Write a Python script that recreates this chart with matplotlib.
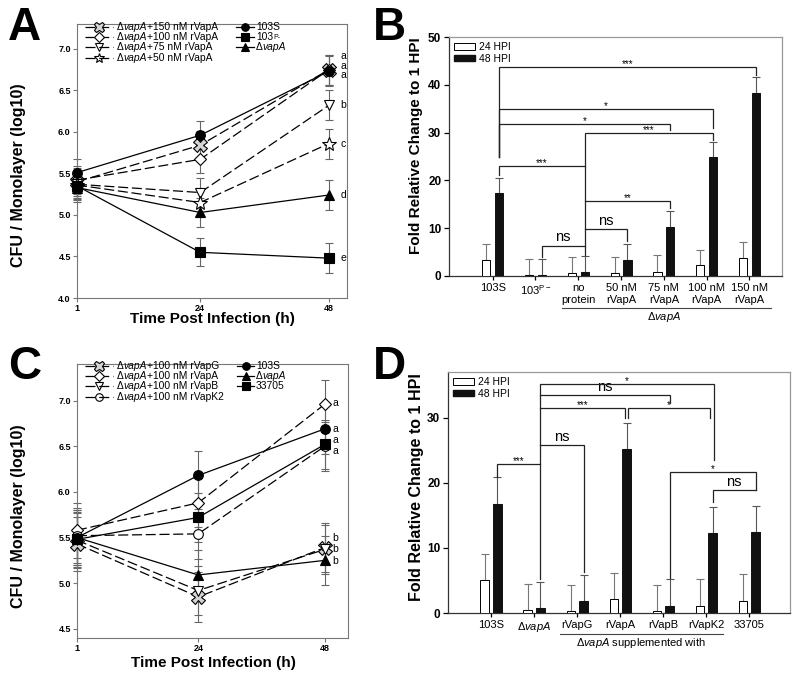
import matplotlib
matplotlib.use('Agg')
import matplotlib.pyplot as plt
from matplotlib.lines import Line2D
from matplotlib.patches import Patch

plt.rcParams['font.family'] = ['Liberation Sans', 'DejaVu Sans']
plt.rcParams['mathtext.fontset'] = 'custom'
plt.rcParams['mathtext.rm'] = 'Liberation Sans'
plt.rcParams['mathtext.it'] = 'Liberation Sans:italic'
plt.rcParams['mathtext.bf'] = 'Liberation Sans:bold'

DV = 'Δ$\\mathit{vapA}$'
hours = [1, 24, 48]

# ---------------- Panel A data ----------------
A_labels = ['ΔvapA+150 nM rVapA', 'ΔvapA+100 nM rVapA', 'ΔvapA+75 nM rVapA',
            'ΔvapA+50 nM rVapA', '103S', '103P-', 'ΔvapA']
A_150 = [5.40, 5.84, 6.75]
A_100 = [5.42, 5.67, 6.75]
A_75 = [5.37, 5.27, 6.32]
A_50 = [5.36, 5.15, 5.86]
A_103S = [5.51, 5.96, 6.73]
A_103P = [5.35, 4.55, 4.48]
A_dvapA = [5.33, 5.03, 5.24]
A_err = [0.17, 0.17, 0.18]
A_letters = ['a', 'a', 'a', 'b', 'c', 'd', 'e']
A_letter_y = [6.92, 6.80, 6.68, 6.32, 5.86, 5.24, 4.48]

# ---------------- Panel C data ----------------
C_labels = ['ΔvapA+100 nM rVapG', 'ΔvapA+100 nM rVapA', 'ΔvapA+100 nM rVapB',
            'ΔvapA+100 nM rVapK2', '103S', 'ΔvapA', '33705']
C_rVapG = [5.43, 4.85, 5.39]
C_rVapA = [5.58, 5.88, 6.96]
C_rVapB = [5.47, 4.92, 5.37]
C_rVapK2 = [5.52, 5.54, 6.50]
C_103S = [5.50, 6.18, 6.69]
C_dvapA = [5.50, 5.09, 5.25]
C_33705 = [5.48, 5.72, 6.52]
C_err = [0.30, 0.27, 0.27]
C_letters = ['a', 'a', 'a', 'a', 'b', 'b', 'b']
C_letter_y = [6.97, 6.69, 6.57, 6.45, 5.49, 5.37, 5.24]

# ---------------- Panel B data ----------------
B_groups = ['103S', '103$^{\\mathrm{P-}}$', 'no\nprotein', '50 nM\nrVapA',
            '75 nM\nrVapA', '100 nM\nrVapA', '150 nM\nrVapA']
B_24 = [3.3, 0.2, 0.6, 0.6, 0.9, 2.2, 3.8]
B_24_err = [3.3, 3.3, 3.4, 3.4, 3.4, 3.3, 3.3]
B_48 = [17.3, 0.2, 0.9, 3.4, 10.2, 24.8, 38.3]
B_48_err = [3.3, 3.3, 3.3, 3.3, 3.3, 3.2, 3.3]
# (from, to, height, drop-from end, drop-to end, label)
B_brackets = [
    (0, 6, 43.7, 24.9, 42.1, '***'),
    (0, 5, 34.9, 24.9, 31.0, '*'),
    (0, 4, 31.8, 24.9, 30.5, '*'),
    (2, 5, 29.9, 4.3, 28.4, '***'),
    (0, 2, 23.0, 21.1, 23.0, '***'),
    (2, 4, 15.7, 15.7, 14.3, '**'),
    (2, 3, 9.8, 9.8, 7.4, 'ns'),
    (1, 2, 6.3, 4.0, 6.3, 'ns'),
]

# ---------------- Panel D data ----------------
D_groups = ['103S', DV, 'rVapG', 'rVapA', 'rVapB', 'rVapK2', '33705']
D_24 = [5.1, 0.4, 0.3, 2.1, 0.3, 1.1, 1.9]
D_24_err = [4.0, 4.1, 4.0, 4.1, 4.0, 4.1, 4.1]
D_48 = [16.8, 0.7, 1.8, 25.2, 1.1, 12.3, 12.5]
D_48_err = [4.1, 4.1, 4.1, 4.0, 4.1, 4.0, 4.0]
D_brackets = [
    (1, 5.03, 35.2, 5.2, 23.5, '*'),
    (1, 4, 33.4, 33.4, 32.3, 'ns'),
    (1, 2.96, 31.4, 31.4, 30.0, '***'),
    (3.04, 4.93, 31.4, 29.9, 29.9, '*'),
    (1, 2, 25.8, 25.8, 6.3, 'ns'),
    (0, 1, 22.8, 20.9, 22.8, '***'),
    (4, 6, 21.7, 5.3, 18.9, '*'),
    (5, 6, 18.9, 17.1, 18.9, 'ns'),
]

W, H = 800, 680
fig = plt.figure(figsize=(8, 6.8), dpi=100)


def px_axes(l, t, r, b):
    return fig.add_axes([l / W, 1 - b / H, (r - l) / W, (b - t) / H])


axA = px_axes(77, 24, 347, 298)
axB = px_axes(449, 37, 782, 276)
axC = px_axes(77, 364, 348, 638)
axD = px_axes(448, 372, 790, 613)

DASH = (0, (8, 3))
ERRC = '#666666'
FRAME = '#777777'
LEG_FS = 7.4


def fx(x):
    return x / W


def fy(y):
    return 1 - y / H


def label_parts(label):
    if label.startswith('ΔvapA'):
        parts = [('Δ', 'normal'), ('vapA', 'italic')]
        if len(label) > 5:
            parts.append((label[5:], 'normal'))
        return parts
    if label == '103P-':
        return [('103', 'normal'), ('P-', 'sup')]
    return [(label, 'normal')]


def chained_text(ax, x, y, label):
    prev = None
    for s, style in label_parts(label):
        if prev is None:
            prev = ax.text(fx(x), fy(y), s, transform=fig.transFigure, fontsize=LEG_FS,
                           ha='left', va='center', style=style if style != 'sup' else 'normal',
                           clip_on=False)
        elif style == 'sup':
            prev = ax.annotate(s, xy=(1, 1), xycoords=prev, xytext=(0.2, -1.0),
                               textcoords='offset points', ha='left', va='top',
                               fontsize=LEG_FS * 0.68, annotation_clip=False)
        else:
            prev = ax.annotate(s, xy=(1, 0), xycoords=prev, ha='left', va='bottom',
                               fontsize=LEG_FS, style=style, annotation_clip=False)


def manual_legend(ax, styles, labels, col_specs, rows):
    # col_specs: (line x0, line x1, text x, first entry index, n entries)
    for (x0, x1, xt, start, n) in col_specs:
        for k in range(n):
            i = start + k
            marker, mfc, ls, ms, lmfc = styles[i]
            y = rows[k]
            fig.add_artist(Line2D([fx(x0), fx(x1)], [fy(y), fy(y)], transform=fig.transFigure,
                                  color='black', lw=0.9, linestyle=ls))
            fig.add_artist(Line2D([fx((x0 + x1) / 2)], [fy(y)], transform=fig.transFigure,
                                  marker=marker, ms=ms * 0.78, mfc=lmfc, mec='black',
                                  mew=0.8, linestyle='none'))
            chained_text(ax, xt, y, labels[i])


def line_panel(ax, series, styles, labels, errs, xlim, ylim, yticks,
               letters, letter_y, letter_x, order):
    for idx in order:
        vals = series[idx]
        marker, mfc, ls, ms, _ = styles[idx]
        ax.errorbar(hours, vals, yerr=errs, fmt='none', ecolor=ERRC,
                    elinewidth=0.8, capsize=3, capthick=0.8, zorder=2,
                    clip_on=False)
        ax.plot(hours, vals, linestyle=ls, color='black', lw=0.9,
                marker=marker, ms=ms, mfc=mfc, mec='black', mew=0.8,
                zorder=3 + idx * 0.1, clip_on=False)
    for t, yy in zip(letters, letter_y):
        ax.text(letter_x, yy, t, fontsize=7.5, ha='left', va='center')
    ax.set_xlim(*xlim)
    ax.set_ylim(*ylim)
    ax.set_xticks(hours)
    ax.set_yticks(yticks)
    ax.set_yticklabels(['%.1f' % v for v in yticks])
    for sp in ax.spines.values():
        sp.set_color(FRAME)
        sp.set_linewidth(0.8)
    ax.tick_params(direction='out', length=3, width=0.8, color=FRAME,
                   labelsize=6.5, pad=1.5)
    for lab in ax.get_xticklabels() + ax.get_yticklabels():
        lab.set_fontweight('bold')


stylesA = [('X', '#d4d4d4', DASH, 10, '#d4d4d4'), ('D', 'white', DASH, 6, 'white'),
           ('v', 'white', DASH, 7, 'none'), ('*', 'white', DASH, 10, 'none'),
           ('o', 'black', '-', 7, 'black'), ('s', 'black', '-', 7, 'black'),
           ('^', 'black', '-', 7, 'black')]
line_panel(axA, [A_150, A_100, A_75, A_50, A_103S, A_103P, A_dvapA],
           stylesA, A_labels, A_err, (1, 51.4), (4.0, 7.3),
           [4.0, 4.5, 5.0, 5.5, 6.0, 6.5, 7.0], A_letters, A_letter_y, 50.2,
           [4, 5, 6, 3, 2, 1, 0])
manual_legend(axA, stylesA, A_labels, [(85, 113, 117, 0, 4), (236, 254, 256, 4, 3)],
              [27, 37.2, 47.4, 57.6])

stylesC = [('X', '#d4d4d4', DASH, 10, '#d4d4d4'), ('D', 'white', DASH, 6, 'white'),
           ('v', 'white', DASH, 7, 'none'), ('o', 'white', DASH, 7, 'none'),
           ('o', 'black', '-', 7, 'black'), ('^', 'black', '-', 7, 'black'),
           ('s', 'black', '-', 7, 'black')]
line_panel(axC, [C_rVapG, C_rVapA, C_rVapB, C_rVapK2, C_103S, C_dvapA, C_33705],
           stylesC, C_labels, C_err, (1, 52.4), (4.4, 7.4),
           [4.5, 5.0, 5.5, 6.0, 6.5, 7.0], C_letters, C_letter_y, 49.4,
           [4, 5, 6, 0, 2, 3, 1])
manual_legend(axC, stylesC, C_labels, [(85, 113, 117, 0, 4), (237, 254, 256, 4, 3)],
              [366, 376.2, 386.4, 396.6])


def bar_panel(ax, groups, v24, e24, v48, e48, brackets, xlim, ylim, yticks,
              under):
    xs = list(range(len(groups)))
    off, bw = 0.15, 0.19
    x24 = [x - off for x in xs]
    x48 = [x + off for x in xs]
    ax.bar(x24, v24, width=bw, color='white', edgecolor='black', lw=0.7, zorder=3)
    ax.bar(x48, v48, width=bw, color='#111111', edgecolor='#111111', lw=0.7, zorder=3)
    ax.errorbar(x24, v24, yerr=[[0] * len(v24), e24], fmt='none', ecolor='#777777',
                elinewidth=0.8, capsize=3, capthick=0.8, zorder=2)
    ax.errorbar(x48, v48, yerr=[[0] * len(v48), e48], fmt='none', ecolor='#555555',
                elinewidth=0.8, capsize=3, capthick=0.8, zorder=2)
    for a, b, h, ya, yb, lab in brackets:
        xa, xb = a + off, b + off
        ax.plot([xa, xa, xb, xb], [ya, h, h, yb], color='#222222', lw=0.9,
                zorder=4, solid_joinstyle='miter', clip_on=False)
        if lab == 'ns':
            ax.annotate(lab, ((xa + xb) / 2, h), xytext=(0, 1), textcoords='offset points',
                        ha='center', va='bottom', fontsize=10.5)
        else:
            ax.annotate(lab, ((xa + xb) / 2, h), xytext=(0, -1.5), textcoords='offset points',
                        ha='center', va='bottom', fontsize=7)
    ax.set_xlim(*xlim)
    ax.set_ylim(*ylim)
    ax.set_yticks(yticks)
    ax.set_xticks(xs)
    ax.set_xticklabels(groups, fontsize=8, linespacing=1.2)
    for lab in ax.get_yticklabels():
        lab.set_fontweight('bold')
    ax.tick_params(axis='y', direction='out', length=3.5, width=0.9,
                   labelsize=8.5, pad=2)
    ax.tick_params(axis='x', direction='out', length=3, width=0.9, pad=2)
    ax.spines['left'].set_color('#333333')
    ax.spines['bottom'].set_color('#333333')
    ax.spines['top'].set_color('#999999')
    ax.spines['right'].set_color('#999999')
    for sp in ax.spines.values():
        sp.set_linewidth(0.9)
    tr = ax.get_xaxis_transform()
    (x0, x1, yl, xt, yt, txt) = under
    ax.plot([x0, x1], [yl, yl], color='#444444', lw=0.8, transform=tr, clip_on=False)
    ax.text(xt, yt, txt, transform=tr, ha='center', va='center', fontsize=8)
    ax.legend([Patch(facecolor='white', edgecolor='black', lw=0.7),
               Patch(facecolor='#111111', edgecolor='#111111')],
              ['24 HPI', '48 HPI'], loc='upper left', frameon=False, fontsize=7.5,
              handlelength=2.0, handleheight=0.6, handletextpad=0.4,
              labelspacing=0.15, borderaxespad=0.3, borderpad=0.2)


bar_panel(axB, B_groups, B_24, B_24_err, B_48, B_48_err, B_brackets,
          (-1.02, 6.76), (0, 50), [0, 10, 20, 30, 40, 50],
          (1.62, 6.5, -0.134, 4.0, -0.172, DV))
bar_panel(axD, D_groups, D_24, D_24_err, D_48, D_48_err, D_brackets,
          (-1.0, 6.95), (0, 37), [0, 10, 20, 30],
          (1.6, 5.4, -0.087, 3.48, -0.124, DV + ' supplemented with'))


def ftext(x, y, s, **kw):
    fig.text(x / W, 1 - y / H, s, **kw)


# panel letters
for x, y, s in [(8, 40, 'A'), (373, 40, 'B'), (8, 379, 'C'), (373, 379, 'D')]:
    ftext(x, y, s, fontsize=33, fontweight='bold', va='baseline', ha='left')

# axis titles
ftext(19, 175, 'CFU / Monolayer (log10)', rotation=90, ha='center', va='center',
      fontsize=11.5, fontweight='bold')
ftext(19, 516, 'CFU / Monolayer (log10)', rotation=90, ha='center', va='center',
      fontsize=11.5, fontweight='bold')
ftext(212, 319, 'Time Post Infection (h)', ha='center', va='center',
      fontsize=11, fontweight='bold')
ftext(213, 663, 'Time Post Infection (h)', ha='center', va='center',
      fontsize=11, fontweight='bold')
ftext(416, 146, 'Fold Relative Change to 1 HPI', rotation=90, ha='center',
      va='center', fontsize=11, fontweight='bold')
ftext(416, 487, 'Fold Relative Change to 1 HPI', rotation=90, ha='center',
      va='center', fontsize=11.5, fontweight='bold')

fig.savefig('out.png', dpi=100)
